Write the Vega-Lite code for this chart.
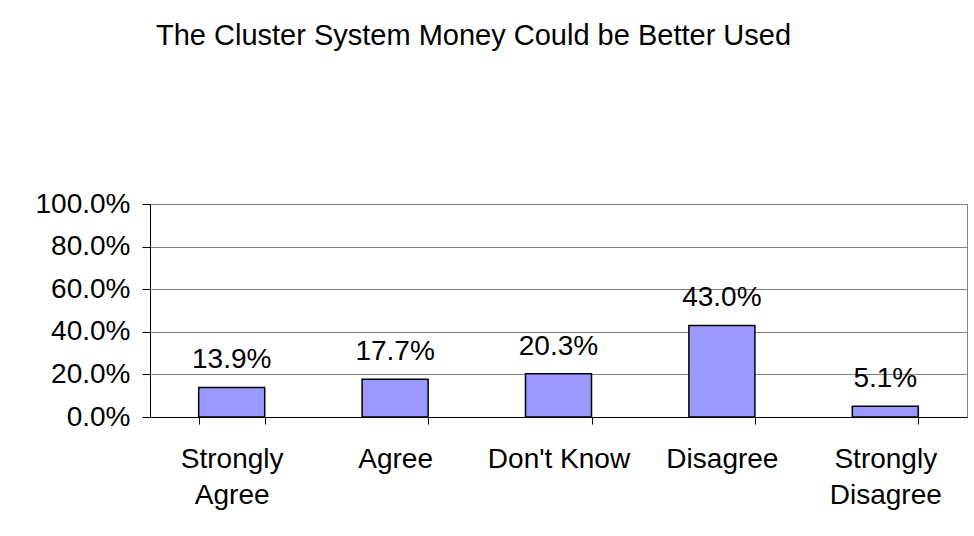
{
  "$schema": "https://vega.github.io/schema/vega-lite/v6.json",
  "autosize": "none",
  "padding": {"left": 150, "top": 204, "right": 7, "bottom": 119},
  "width": 817,
  "height": 213,
  "background": "white",
  "title": {
    "text": "The Cluster System Money Could be Better Used",
    "anchor": "start",
    "frame": "group",
    "dx": 6,
    "offset": 139,
    "font": "Liberation Sans",
    "fontSize": 29,
    "fontWeight": "normal",
    "color": "black"
  },
  "data": {
    "values": [
      {"response": "Strongly Agree", "pct": 0.139},
      {"response": "Agree", "pct": 0.177},
      {"response": "Don't Know", "pct": 0.203},
      {"response": "Disagree", "pct": 0.430},
      {"response": "Strongly Disagree", "pct": 0.051}
    ]
  },
  "encoding": {
    "x": {
      "field": "response",
      "type": "nominal",
      "sort": null,
      "scale": {"paddingInner": 0.596, "paddingOuter": 0.298},
      "axis": {
        "title": null,
        "labelAngle": 0,
        "labelFont": "Liberation Sans",
        "labelFontSize": 28,
        "labelColor": "black",
        "labelBaseline": "top",
        "labelLineHeight": 36,
        "labelPadding": 21,
        "labelExpr": "datum.label == 'Strongly Agree' ? ['Strongly','Agree'] : datum.label == 'Strongly Disagree' ? ['Strongly','Disagree'] : datum.label",
        "tickBand": "extent",
        "tickSize": 7,
        "tickColor": "black",
        "domainColor": "black",
        "domainWidth": 1,
        "grid": false
      }
    },
    "y": {
      "field": "pct",
      "type": "quantitative",
      "scale": {"domain": [0, 1], "nice": false},
      "axis": {
        "title": null,
        "format": ".1%",
        "values": [0, 0.2, 0.4, 0.6, 0.8, 1],
        "labelFont": "Liberation Sans",
        "labelFontSize": 28,
        "labelColor": "black",
        "labelPadding": 12,
        "tickSize": 8,
        "tickColor": "black",
        "domainColor": "black",
        "grid": true,
        "gridColor": "#808080",
        "gridOpacity": 1
      }
    }
  },
  "layer": [
    {
      "mark": {"type": "bar", "fill": "#9999FF", "stroke": "black", "strokeWidth": 1.5}
    },
    {
      "mark": {
        "type": "text",
        "baseline": "alphabetic",
        "dy": -19,
        "font": "Liberation Sans",
        "fontSize": 28,
        "color": "black"
      },
      "encoding": {
        "text": {"field": "pct", "type": "quantitative", "format": ".1%"}
      }
    }
  ],
  "config": {
    "view": {"stroke": "#808080", "strokeWidth": 1}
  }
}
